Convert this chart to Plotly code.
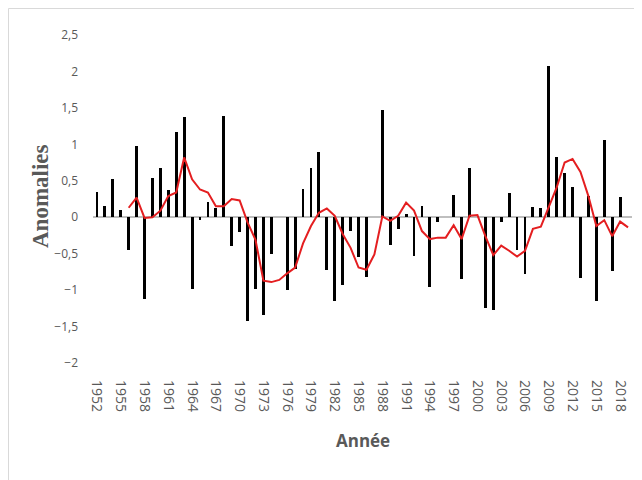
import plotly.graph_objects as go

years = list(range(1952, 2020))
anomalies = [
    0.34, 0.15, 0.52, 0.10, -0.45, 0.98, -1.12, 0.54, 0.67, 0.37,
    1.17, 1.37, -0.98, -0.04, 0.21, 0.13, 1.39, -0.40, -0.20, -1.42,
    -0.98, -1.34, -0.51, 0.0, -1.00, -0.71, 0.39, 0.68, 0.90, -0.73,
    -1.15, -0.93, -0.19, -0.55, -0.82, 0.0, 1.47, -0.38, -0.16, 0.05,
    -0.53, 0.16, -0.96, -0.06, 0.0, 0.31, -0.85, 0.68, 0.0, -1.24,
    -1.27, -0.07, 0.33, -0.45, -0.78, 0.14, 0.12, 2.07, 0.82, 0.61,
    0.41, -0.84, 0.29, -1.15, 1.06, -0.74, 0.28, 0.0,
]

trend_years = list(range(1956, 2020))
trend = [
    0.13, 0.27, -0.01, 0.0, 0.09, 0.29, 0.34, 0.82, 0.52, 0.38,
    0.34, 0.15, 0.15, 0.25, 0.23, -0.07, -0.31, -0.87, -0.89, -0.86,
    -0.77, -0.69, -0.36, -0.12, 0.06, 0.12, 0.02, -0.23, -0.42, -0.69,
    -0.72, -0.51, 0.01, -0.05, 0.02, 0.20, 0.09, -0.19, -0.30, -0.28,
    -0.28, -0.11, -0.30, 0.02, 0.03, -0.26, -0.52, -0.39, -0.46, -0.54,
    -0.46, -0.16, -0.13, 0.13, 0.41, 0.75, 0.80, 0.62, 0.29, -0.12,
    -0.04, -0.26, -0.06, -0.14,
]

x_ticks = list(range(1952, 2019, 3))
y_ticks = [2.5, 2, 1.5, 1, 0.5, 0, -0.5, -1, -1.5, -2]

fig = go.Figure()
fig.add_trace(go.Bar(x=years, y=anomalies, width=0.36,
                     marker=dict(color="#000000", line=dict(width=0)),
                     showlegend=False))
fig.add_trace(go.Scatter(x=trend_years, y=trend, mode="lines",
                         line=dict(color="#E41E20", width=2),
                         showlegend=False))

W, H = 634, 472
ml, mr, mt, mb = 85, 10, 27, 117
pw = W - ml - mr
ph = H - mt - mb


def px(x):
    return (x - ml) / pw


def py(y):
    return (H - mb - y) / ph


fig.update_layout(
    width=W, height=H,
    margin=dict(l=ml, r=mr, t=mt, b=mb),
    paper_bgcolor="white", plot_bgcolor="white",
    separators=", ",
    bargap=0,
    font=dict(family="Open Sans, Liberation Sans, sans-serif", color="#595959"),
    xaxis=dict(
        range=[1951.5, 2019.5],
        tickmode="array", tickvals=x_ticks, ticktext=[str(v) for v in x_ticks],
        tickangle=90, tickfont=dict(size=14, color="#595959"),
        showgrid=False, zeroline=False, showline=False, ticks="",
        ticklabelstandoff=16,
    ),
    yaxis=dict(
        range=[-2, 2.5],
        tickmode="array", tickvals=y_ticks,
        tickfont=dict(size=12, color="#595959"),
        showgrid=False, zeroline=True, zerolinecolor="#BFBFBF", zerolinewidth=2,
        showline=False, ticks="", ticklabelstandoff=14,
    ),
    shapes=[
        dict(type="rect", xref="paper", yref="paper",
             x0=px(0.5), x1=px(660), y0=py(500), y1=py(0.5),
             line=dict(color="#D9D9D9", width=1), fillcolor="rgba(0,0,0,0)",
             layer="below"),
    ],
    annotations=[
        dict(text="<b>Anomalies</b>", xref="paper", yref="paper",
             x=px(32), y=py(188),
             xanchor="center", yanchor="middle", textangle=-90, showarrow=False,
             font=dict(family="Liberation Serif, Times New Roman, serif", size=23, color="#595959")),
        dict(text="<b>Année</b>", xref="paper", yref="paper",
             x=px(355), y=py(432),
             xanchor="center", yanchor="middle", showarrow=False,
             font=dict(family="Open Sans, Liberation Sans, sans-serif", size=17, color="#595959")),
    ],
)

fig.write_html("out.html")
